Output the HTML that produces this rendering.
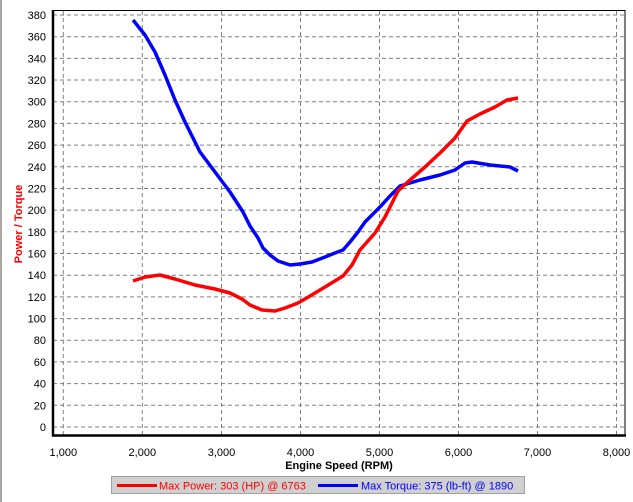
<!DOCTYPE html>
<html><head><style>
body{margin:0;background:#fff;}
svg{display:block;font-family:"Liberation Sans",Arial,sans-serif;}
</style></head><body>
<svg width="633" height="502" viewBox="0 0 633 502" xmlns="http://www.w3.org/2000/svg">
<rect x="0" y="0" width="633" height="502" fill="#fff"/>
<rect x="0" y="0" width="2" height="502" fill="#a8a8a0"/>
<g stroke="#808080" stroke-width="1" stroke-dasharray="4,3" fill="none">
<line x1="53" y1="15" x2="625" y2="15"/><line x1="53" y1="36.7" x2="625" y2="36.7"/><line x1="53" y1="58.4" x2="625" y2="58.4"/><line x1="53" y1="80" x2="625" y2="80"/><line x1="53" y1="101.7" x2="625" y2="101.7"/><line x1="53" y1="123.4" x2="625" y2="123.4"/><line x1="53" y1="145.1" x2="625" y2="145.1"/><line x1="53" y1="166.8" x2="625" y2="166.8"/><line x1="53" y1="188.5" x2="625" y2="188.5"/><line x1="53" y1="210.1" x2="625" y2="210.1"/><line x1="53" y1="231.8" x2="625" y2="231.8"/><line x1="53" y1="253.5" x2="625" y2="253.5"/><line x1="53" y1="275.2" x2="625" y2="275.2"/><line x1="53" y1="296.9" x2="625" y2="296.9"/><line x1="53" y1="318.6" x2="625" y2="318.6"/><line x1="53" y1="340.2" x2="625" y2="340.2"/><line x1="53" y1="361.9" x2="625" y2="361.9"/><line x1="53" y1="383.6" x2="625" y2="383.6"/><line x1="53" y1="405.3" x2="625" y2="405.3"/><line x1="53" y1="427" x2="625" y2="427"/>
<line x1="63.3" y1="11" x2="63.3" y2="435"/><line x1="142.3" y1="11" x2="142.3" y2="435"/><line x1="221.5" y1="11" x2="221.5" y2="435"/><line x1="300.5" y1="11" x2="300.5" y2="435"/><line x1="379.5" y1="11" x2="379.5" y2="435"/><line x1="458.5" y1="11" x2="458.5" y2="435"/><line x1="537.5" y1="11" x2="537.5" y2="435"/><line x1="616.5" y1="11" x2="616.5" y2="435"/>
</g>
<rect x="53" y="10.5" width="572" height="424.5" fill="none" stroke="#000" stroke-width="1"/>
<line x1="53" y1="10" x2="53" y2="436" stroke="#000" stroke-width="2.5"/>
<line x1="52" y1="435.5" x2="626" y2="435.5" stroke="#000" stroke-width="2.5"/>
<g font-size="11" text-anchor="end" fill="#000">
<text x="46" y="19">380</text><text x="46" y="40.7">360</text><text x="46" y="62.4">340</text><text x="46" y="84">320</text><text x="46" y="105.7">300</text><text x="46" y="127.4">280</text><text x="46" y="149.1">260</text><text x="46" y="170.8">240</text><text x="46" y="192.5">220</text><text x="46" y="214.1">200</text><text x="46" y="235.8">180</text><text x="46" y="257.5">160</text><text x="46" y="279.2">140</text><text x="46" y="300.9">120</text><text x="46" y="322.6">100</text><text x="46" y="344.2">80</text><text x="46" y="365.9">60</text><text x="46" y="387.6">40</text><text x="46" y="409.3">20</text><text x="46" y="431">0</text>
</g>
<g font-size="11" text-anchor="middle" fill="#000">
<text x="63.3" y="456">1,000</text><text x="142.3" y="456">2,000</text><text x="221.5" y="456">3,000</text><text x="300.5" y="456">4,000</text><text x="379.5" y="456">5,000</text><text x="458.5" y="456">6,000</text><text x="537.5" y="456">7,000</text><text x="616.5" y="456">8,000</text>
</g>
<text x="339" y="469" font-size="11" font-weight="bold" text-anchor="middle">Engine Speed (RPM)</text>
<text transform="translate(22,224) rotate(-90)" font-size="11" font-weight="bold" fill="#f00" text-anchor="middle">Power / Torque</text>
<polyline fill="none" stroke="#0000ff" stroke-width="3.5" stroke-linejoin="round" points="133,20 145,35 155,52 165,75 175,100 185,122 200,152 215,172 230,192 243,212 250,226 258,238 263,248 270,255 278,261 290,265 300,264 312,262 325,257 335,253 343,250 350,242 358,232 365,222 372,215 380,207 390,196 397,189 400,186 420,180 440,175 455,170 465,163 472,162 490,165 510,167 518,171"/>
<polyline fill="none" stroke="#ff0000" stroke-width="3.5" stroke-linejoin="round" points="133,281 145,277 160,275 175,279 195,285 215,289 230,293 242,299 250,305 262,310 275,311 285,308 298,303 310,296 325,287 343,276 352,265 360,250 375,233 385,217 398,191 410,180 425,167 440,153 455,138 467,121 480,114 495,107 507,100 518,98"/>
<rect x="111.5" y="476.5" width="413" height="17" fill="#d0d0d0" stroke="#a0a0a0"/>
<line x1="117" y1="485.5" x2="157" y2="485.5" stroke="#f00" stroke-width="3"/>
<text x="159" y="489.5" font-size="11" fill="#f00">Max Power: 303 (HP) @ 6763</text>
<line x1="318" y1="485.5" x2="358" y2="485.5" stroke="#00f" stroke-width="3"/>
<text x="361" y="489.5" font-size="11" fill="#00f">Max Torque: 375 (lb-ft) @ 1890</text>
</svg>
</body></html>
